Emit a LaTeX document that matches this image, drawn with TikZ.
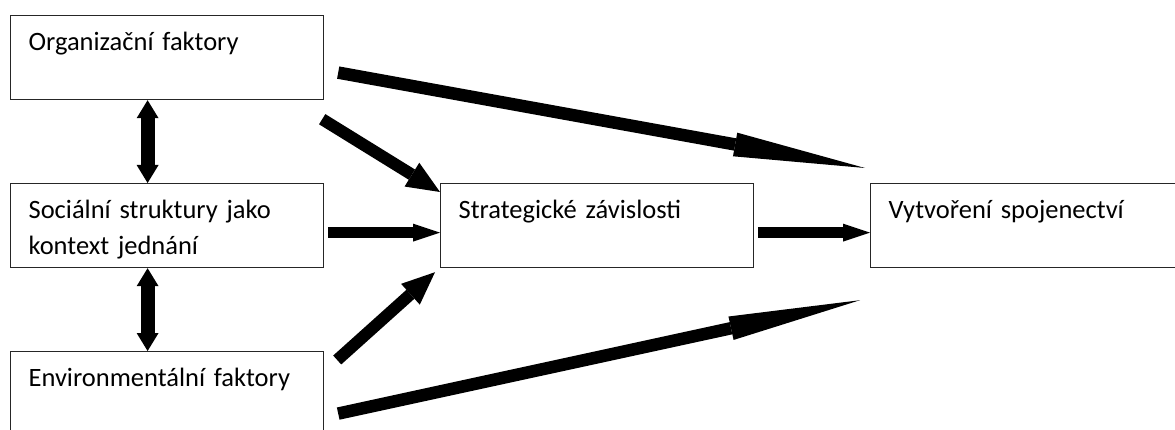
\documentclass[tikz,border=0pt]{standalone}
\usepackage{fontspec}
\setmainfont{Carlito}
\usetikzlibrary{arrows.meta,calc}

\begin{document}
\begin{tikzpicture}[x=1pt,y=-1pt,
  box/.style={draw=black!85,line width=1.2pt,anchor=north west,
    inner xsep=18pt,inner ysep=0pt,text width=277pt,align=left,
    text height=35pt,text depth=49pt,font=\fontsize{26.5}{36}\selectfont},
  longarrow/.style={line width=12.5pt,-{Triangle[length=132pt,width=24pt,line width=0pt]}},
  midarrow/.style={line width=12pt,-{Triangle[length=33pt,width=28pt,line width=0pt]}},
  flatarrow/.style={line width=11pt,-{Triangle[length=27pt,width=18pt,line width=0pt]}},
  twinarrow/.style={line width=14pt,{Triangle[length=18pt,width=22pt,line width=0pt]}-{Triangle[length=18pt,width=22pt,line width=0pt]}}]
\useasboundingbox (0,0) rectangle (1175,430);
\clip (0,0) rectangle (1175,430);

\node[box] (org) at (10,15) {Organizační faktory};
\node[box] (soc) at (10,183) {Sociální struktury jako\\kontext jednání};
\node[box] (env) at (10,351) {Environmentální faktory};
\node[box] (strat) at (440,183) {Strategické závislosti};
\node[box] (vytv) at (870,183) {Vytvoření spojenectví};

\draw[longarrow] ($(org.east)+(14,15)$) -- ($(vytv.north west)+(-5,-15)$);
\draw[midarrow] ($(org.south east)+(-2,19)$) -- ($(strat.north west)+(0,9)$);
\draw[flatarrow] ($(soc.east)+(4,7)$) -- ($(strat.west)+(0,7)$);
\draw[midarrow] ($(env.north east)+(13,9)$) -- ($(strat.south west)+(-5,4)$);
\draw[longarrow] ($(env.east)+(14,20)$) -- ($(vytv.south west)+(-10,32)$);
\draw[flatarrow] ($(strat.east)+(4,7)$) -- ($(vytv.west)+(0,7)$);

\draw[twinarrow] ($(org.south)+(-19.5,0)$) -- ($(soc.north)+(-19.5,0)$);
\draw[twinarrow] ($(soc.south)+(-19.5,0)$) -- ($(env.north)+(-19.5,0)$);
\end{tikzpicture}
\end{document}
